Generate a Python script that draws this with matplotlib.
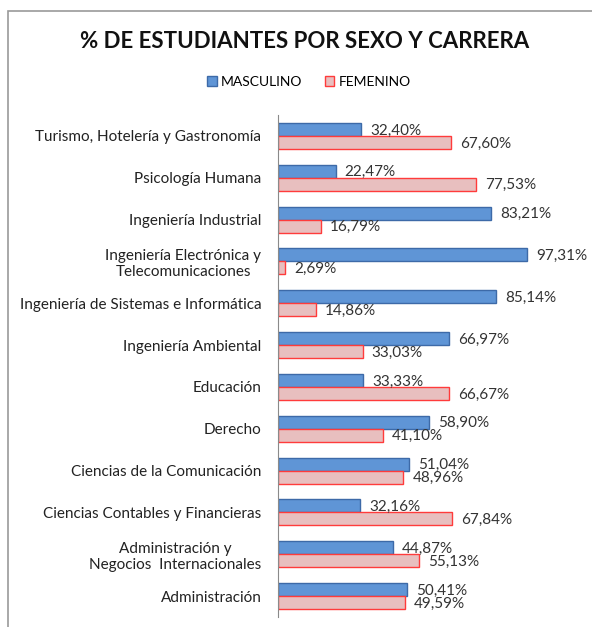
import matplotlib
matplotlib.use("Agg")
import matplotlib.pyplot as plt
from matplotlib.patches import Rectangle, Patch
import numpy as np

plt.rcParams['font.family'] = ['Lato', 'DejaVu Sans']

categories = [
    "Administración",
    "Administración y\nNegocios  Internacionales",
    "Ciencias Contables y Financieras",
    "Ciencias de la Comunicación",
    "Derecho",
    "Educación",
    "Ingeniería Ambiental",
    "Ingeniería de Sistemas e Informática",
    "Ingeniería Electrónica y\nTelecomunicaciones",
    "Ingeniería Industrial",
    "Psicología Humana",
    "Turismo, Hotelería y Gastronomía",
]
masculino = [50.41, 44.87, 32.16, 51.04, 58.90, 33.33, 66.97, 85.14, 97.31, 83.21, 22.47, 32.40]
femenino = [49.59, 55.13, 67.84, 48.96, 41.10, 66.67, 33.03, 14.86, 2.69, 16.79, 77.53, 67.60]

W, H = 592, 627
fig = plt.figure(figsize=(W / 100, H / 100), dpi=100)
fig.patch.set_facecolor("white")

# chart frame
fig.add_artist(Rectangle((8 / W, -0.05), 1.2, 1 - 11 / H + 0.05, transform=fig.transFigure,
                         fill=False, edgecolor="#9a9a9a", linewidth=1.2))

ax = fig.add_axes([278 / W, 1 - 617 / H, 256 / W, (617 - 115) / H])
y = np.arange(len(categories))
h = 0.31
blue_face, blue_edge = "#5f95d6", "#3d6aa8"
pink_face, pink_edge = "#e8bfbf", "#ff3b3b"
ax.barh(y + h / 2, masculino, height=h, color=blue_face, edgecolor=blue_edge, linewidth=1.0)
ax.barh(y - h / 2, femenino, height=h, color=pink_face, edgecolor=pink_edge, linewidth=1.0)

def fmt(v):
    return f"{v:.2f}%".replace(".", ",")

for yi, v in zip(y, masculino):
    ax.annotate(fmt(v), (v, yi + h / 2), xytext=(9, -1), textcoords="offset pixels",
                ha="left", va="center", fontsize=11, color="#333333")
for yi, v in zip(y, femenino):
    ax.annotate(fmt(v), (v, yi - h / 2), xytext=(9, -1), textcoords="offset pixels",
                ha="left", va="center", fontsize=11, color="#333333")

ax.set_xlim(0, 100)
ax.set_ylim(-0.5, len(categories) - 0.5)
ax.set_yticks(y)
ax.set_yticklabels(categories, fontsize=11, color="#222222", multialignment="center")
ax.tick_params(axis="y", length=0, pad=12)
ax.set_xticks([])
for s in ["top", "right", "bottom"]:
    ax.spines[s].set_visible(False)
ax.spines["left"].set_color("#8a8a8a")
ax.patch.set_alpha(0)

fig.text(305 / W, 1 - 41 / H, "% DE ESTUDIANTES POR SEXO Y CARRERA", ha="center", va="center",
         fontsize=16, fontweight="bold", color="#111111")

handles = [Patch(facecolor=blue_face, edgecolor=blue_edge, label="MASCULINO"),
           Patch(facecolor=pink_face, edgecolor=pink_edge, label="FEMENINO")]
fig.legend(handles=handles, loc="center", bbox_to_anchor=(309 / W, 1 - 82 / H), ncol=2,
           frameon=False, fontsize=10, handlelength=0.7, handleheight=0.7,
           handletextpad=0.3, columnspacing=1.6)

fig.savefig("out.png", dpi=100)
